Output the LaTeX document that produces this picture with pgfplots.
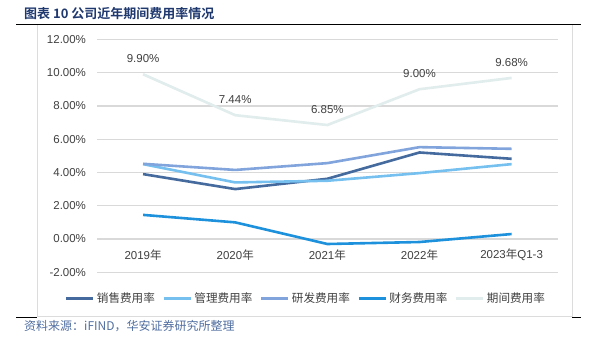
\documentclass[border=0pt]{standalone}
\usepackage{fontspec}
\setmainfont{Liberation Sans}
\newfontfamily\cjk[BoldFont={Noto Sans CJK SC Bold}]{Noto Sans CJK SC}
\usepackage{pgfplots}
\pgfplotsset{compat=1.18}
\definecolor{cSales}{RGB}{68,106,158}
\definecolor{cAdmin}{RGB}{118,192,240}
\definecolor{cRD}{RGB}{130,164,220}
\definecolor{cFin}{RGB}{30,145,220}
\definecolor{cPeriod}{RGB}{225,236,236}
\definecolor{gridgray}{RGB}{217,217,217}
\definecolor{boxgray}{RGB}{220,220,220}
\definecolor{titleblue}{RGB}{31,56,110}
\definecolor{srcblue}{RGB}{80,110,160}
\definecolor{txtgray}{RGB}{64,64,64}
\begin{document}
\begin{tikzpicture}[x=1pt,y=1pt]
\useasboundingbox (0,0) rectangle (599,341);
% title
\node[anchor=west, font=\cjk\bfseries\fontsize{13}{15}\selectfont, text=titleblue, inner sep=0] at (24,327.5) {图表 10 公司近年期间费用率情况};
% frame
\fill[white] (37,24.3) rectangle (572,316.7);
\draw[boxgray, line width=1] (37,24.3) -- (37,316.7);
\draw[boxgray, line width=1] (572,24.3) -- (572,316.7);
\draw[boxgray, line width=1.2] (37,24.3) -- (572,24.3);
\draw[black, line width=1.2] (16,316.7) -- (581,316.7);
\draw[black, line width=1.2] (16,23.6) -- (37,23.6);
\draw[black, line width=1.2] (572,23.6) -- (581,23.6);
% source
\node[anchor=west, font=\cjk\fontsize{12}{14}\selectfont, text=srcblue, inner sep=0] at (24,14.5) {资料来源：iFIND，华安证券研究所整理};
\begin{axis}[
  at={(97pt,68.7pt)}, anchor=south west,
  scale only axis, width=460.7pt, height=233pt,
  xmin=-0.5, xmax=4.5, ymin=-2, ymax=12,
  axis line style={draw=none},
  xtick={0,1,2,3,4},
  xticklabels={2019{\cjk 年},2020{\cjk 年},2021{\cjk 年},2022{\cjk 年},2023{\cjk 年}Q1-3},
  ytick={-2,0,2,4,6,8,10,12},
  yticklabels={-2.00\%,0.00\%,2.00\%,4.00\%,6.00\%,8.00\%,10.00\%,12.00\%},
  ymajorgrids,
  grid style={gridgray, line width=1.3pt},
  major tick length=0pt,
  tick label style={font=\fontsize{11.5}{13}\selectfont, text=txtgray},
  xticklabel style={anchor=center, yshift=17.3pt},
  yticklabel style={anchor=east, xshift=-7.5pt},
  /pgf/number format/assume math mode=true,
  legend columns=5,
  legend style={at={(0.4535,-0.112)}, anchor=center, draw=none, fill=none,
    font=\cjk\fontsize{11.6}{13}\selectfont, text=txtgray,
    /tikz/every even column/.append style={column sep=5.5pt},
    inner sep=0pt},
  legend image code/.code={\draw[#1, line width=3pt] (0pt,0pt) -- (27pt,0pt);},
  clip=false,
]
\addplot[cSales, line width=2.6pt, line join=round] coordinates {(0,3.90) (1,3.00) (2,3.62) (3,5.20) (4,4.82)};
\addlegendentry{销售费用率}
\addplot[cAdmin, line width=2.6pt, line join=round] coordinates {(0,4.50) (1,3.40) (2,3.50) (3,3.96) (4,4.50)};
\addlegendentry{管理费用率}
\addplot[cRD, line width=2.6pt, line join=round] coordinates {(0,4.52) (1,4.15) (2,4.56) (3,5.52) (4,5.42)};
\addlegendentry{研发费用率}
\addplot[cFin, line width=2.6pt, line join=round] coordinates {(0,1.45) (1,1.00) (2,-0.30) (3,-0.18) (4,0.30)};
\addlegendentry{财务费用率}
\addplot[cPeriod, line width=2.6pt, line join=round,
  point meta=explicit symbolic, nodes near coords,
  every node near coord/.append style={anchor=center, yshift=15.5pt, text=txtgray, font=\fontsize{11.5}{13}\selectfont}]
  coordinates {(0,9.90)[9.90\%] (1,7.44)[7.44\%] (2,6.85)[6.85\%] (3,9.00)[9.00\%] (4,9.68)[9.68\%]};
\addlegendentry{期间费用率}
\end{axis}
\end{tikzpicture}
\end{document}
